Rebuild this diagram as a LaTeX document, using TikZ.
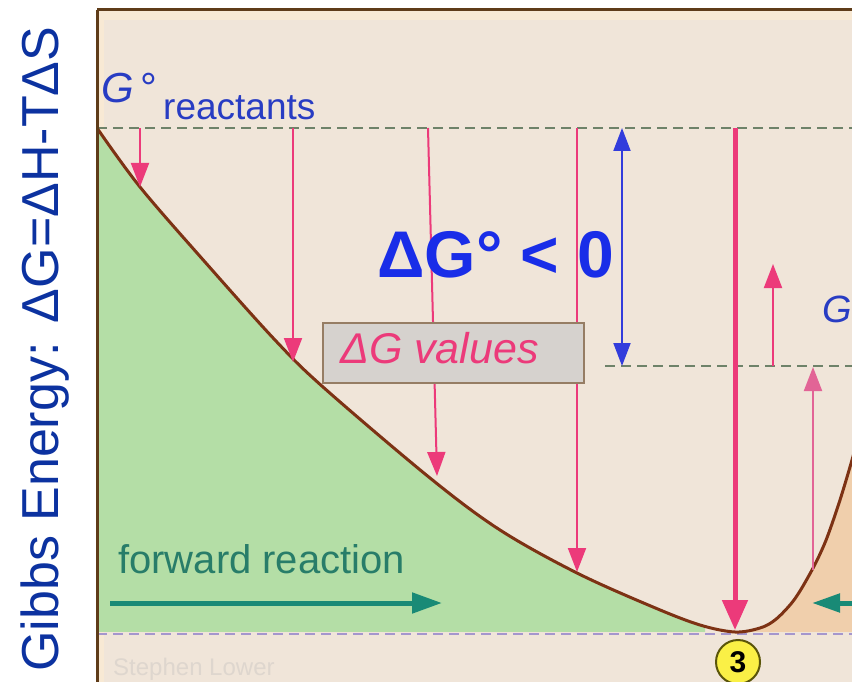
\documentclass[tikz,border=0pt]{standalone}
\usepackage{fontspec}
\setmainfont{Liberation Sans}
\usetikzlibrary{arrows.meta}
\definecolor{bgc}{RGB}{240,229,217}
\definecolor{stripc}{RGB}{248,233,212}
\definecolor{framec}{RGB}{95,60,25}
\definecolor{greenc}{RGB}{180,222,166}
\definecolor{peachc}{RGB}{240,207,172}
\definecolor{curvec}{RGB}{125,50,20}
\definecolor{dashgc}{RGB}{110,130,105}
\definecolor{dashlc}{RGB}{165,150,205}
\definecolor{pinkc}{RGB}{236,58,122}
\definecolor{lpinkc}{RGB}{226,100,150}
\definecolor{bluec}{RGB}{50,60,220}
\definecolor{labelblue}{RGB}{12,50,160}
\definecolor{gblue}{RGB}{40,60,195}
\definecolor{bigblue}{RGB}{25,45,232}
\definecolor{tealc}{RGB}{25,138,118}
\definecolor{tealt}{RGB}{40,125,105}
\definecolor{boxgray}{RGB}{214,210,206}
\definecolor{boxbrown}{RGB}{150,125,100}
\definecolor{yellowc}{RGB}{250,240,70}
\definecolor{ringc}{RGB}{90,85,10}
\definecolor{wmc}{RGB}{222,214,206}
\begin{document}
\begin{tikzpicture}[x=1pt,y=-1pt,
  pinkarrow/.style={draw=pinkc, line width=2pt, -{Triangle[width=18pt,length=24pt]}},
  thickpink/.style={draw=pinkc, line width=5pt, -{Triangle[width=25pt,length=30pt]}},
  bluearrow/.style={draw=bluec, line width=2pt, {Triangle[width=17pt,length=23pt]}-{Triangle[width=17pt,length=23pt]}},
  tealarrow/.style={draw=tealc, line width=5pt, -{Triangle[width=20pt,length=30pt]}},
  dashg/.style={draw=dashgc, line width=2pt, dash pattern=on 10pt off 6pt},
  dashl/.style={draw=dashlc, line width=2pt, dash pattern=on 10pt off 6pt},
  txt/.style={inner sep=0pt, anchor=base west}]
\useasboundingbox (0,0) rectangle (852,682);
% frame background
\fill[bgc] (97,10) rectangle (852,682);
\fill[stripc] (97,10) rectangle (852,20);
\fill[stripc] (97,10) rectangle (104,682);
\begin{scope}
\clip (97,10) rectangle (852,682);
% green fill under the left branch
\begin{scope}
\clip (97,10) rectangle (705,631);
\fill[greenc] (97,128) -- plot[smooth, tension=0.55] coordinates {(97,128) (140,187) (205,262) (275,340) (323,387) (430,478) (500,530) (577,573) (653,607) (700,625) (735,632) (760,628) (775,620) (790,605) (800,591) (812,570) (820,554) (828,535) (840,500) (852,460) (860,430)} -- (860,640) -- (97,640) -- cycle;
\end{scope}
% peach fill under right branch
\begin{scope}
\clip (735,10) rectangle (852,631);
\fill[peachc] (97,128) -- plot[smooth, tension=0.55] coordinates {(97,128) (140,187) (205,262) (275,340) (323,387) (430,478) (500,530) (577,573) (653,607) (700,625) (735,632) (760,628) (775,620) (790,605) (800,591) (812,570) (820,554) (828,535) (840,500) (852,460) (860,430)} -- (860,640) -- (97,640) -- cycle;
\end{scope}
% dashed levels
\coordinate (ul) at (97,128); \coordinate (ur) at (852,128);
\coordinate (ml) at (605,366); \coordinate (mr) at (852,366);
\coordinate (ll) at (97,634); \coordinate (lr) at (852,634);
\draw[dashg] (ul) -- (ur);
\draw[dashg] (ml) -- (mr);
\draw[dashl] (ll) -- (lr);
% curve
\draw[curvec, line width=3pt] plot[smooth, tension=0.55] coordinates {(97,128) (140,187) (205,262) (275,340) (323,387) (430,478) (500,530) (577,573) (653,607) (700,625) (735,632) (760,628) (775,620) (790,605) (800,591) (812,570) (820,554) (828,535) (840,500) (852,460) (860,430)};
% arrows from reactant level to the curve
\coordinate (a1s) at (140,128); \coordinate (a1e) at (140,187);
\coordinate (a2s) at (293,128); \coordinate (a2e) at (293,362);
\coordinate (a3s) at (428,128); \coordinate (a3e) at (437,476);
\coordinate (a4s) at (577,128); \coordinate (a4e) at (577,572);
\coordinate (a5s) at (735,128); \coordinate (a5e) at (735,630);
\coordinate (b1) at (622,128); \coordinate (b2) at (622,366);
\coordinate (u1s) at (773,366); \coordinate (u1e) at (773,264);
\coordinate (u2s) at (813,570); \coordinate (u2e) at (813,367);
\draw[pinkarrow] (a1s) -- (a1e);
\draw[pinkarrow] (a2s) -- (a2e);
\draw[pinkarrow] (a3s) -- (a3e);
\draw[pinkarrow] (a4s) -- (a4e);
\draw[thickpink] (a5s) -- (a5e);
\draw[bluearrow] (b1) -- (b2);
\draw[pinkarrow] (u1s) -- (u1e);
\draw[pinkarrow, draw=lpinkc] (u2s) -- (u2e);
% teal arrows
\coordinate (f1) at (110,603); \coordinate (f2) at (442,603);
\coordinate (r1) at (860,603); \coordinate (r2) at (812,603);
\draw[tealarrow] (f1) -- (f2);
\draw[tealarrow, -{Triangle[width=18pt,length=28pt]}] (r1) -- (r2);
% Delta G values box
\node[draw=boxbrown, fill=boxgray, line width=2pt, minimum width=261pt, minimum height=60pt, inner sep=0pt, anchor=north west] (dgbox) at (322,322) {};
\node[txt, text=pinkc, font=\fontsize{43}{43}\selectfont\itshape] (dgtext) at (340,363) {ΔG values};
% texts
\node[txt, text=gblue, font=\fontsize{42}{42}\selectfont] (gdeg) at (101,103) {\textit{G}\,°};
\node[txt, text=gblue, font=\fontsize{37}{37}\selectfont] (react) at (163,120) {reactants};
\node[txt, text=bigblue, font=\fontsize{66}{66}\selectfont\bfseries] (dg0) at (377,277) {ΔG° < 0};
\node[txt, text=gblue, font=\fontsize{38}{38}\selectfont\itshape] (gprod) at (822,322) {G};
\node[txt, text=tealt, font=\fontsize{40}{40}\selectfont] (fwd) at (118,573) {forward reaction};
\node[txt, text=wmc, font=\fontsize{24}{24}\selectfont] (wm) at (113,675) {Stephen Lower};
\node[circle, fill=yellowc, draw=ringc, line width=2pt, minimum size=44pt, inner sep=0pt, font=\fontsize{30}{30}\selectfont\bfseries] (three) at (738,662) {3};
\end{scope}
% frame borders
\draw[framec, line width=3pt] (97,10) -- (852,10);
\draw[framec, line width=3pt] (97,10) -- (97,682);
% axis label
\node[txt, rotate=90, text=labelblue, font=\fontsize{52}{52}\selectfont] (ylabel) at (58,672) {Gibbs Energy: ΔG=ΔH-TΔS};
\end{tikzpicture}
\end{document}
